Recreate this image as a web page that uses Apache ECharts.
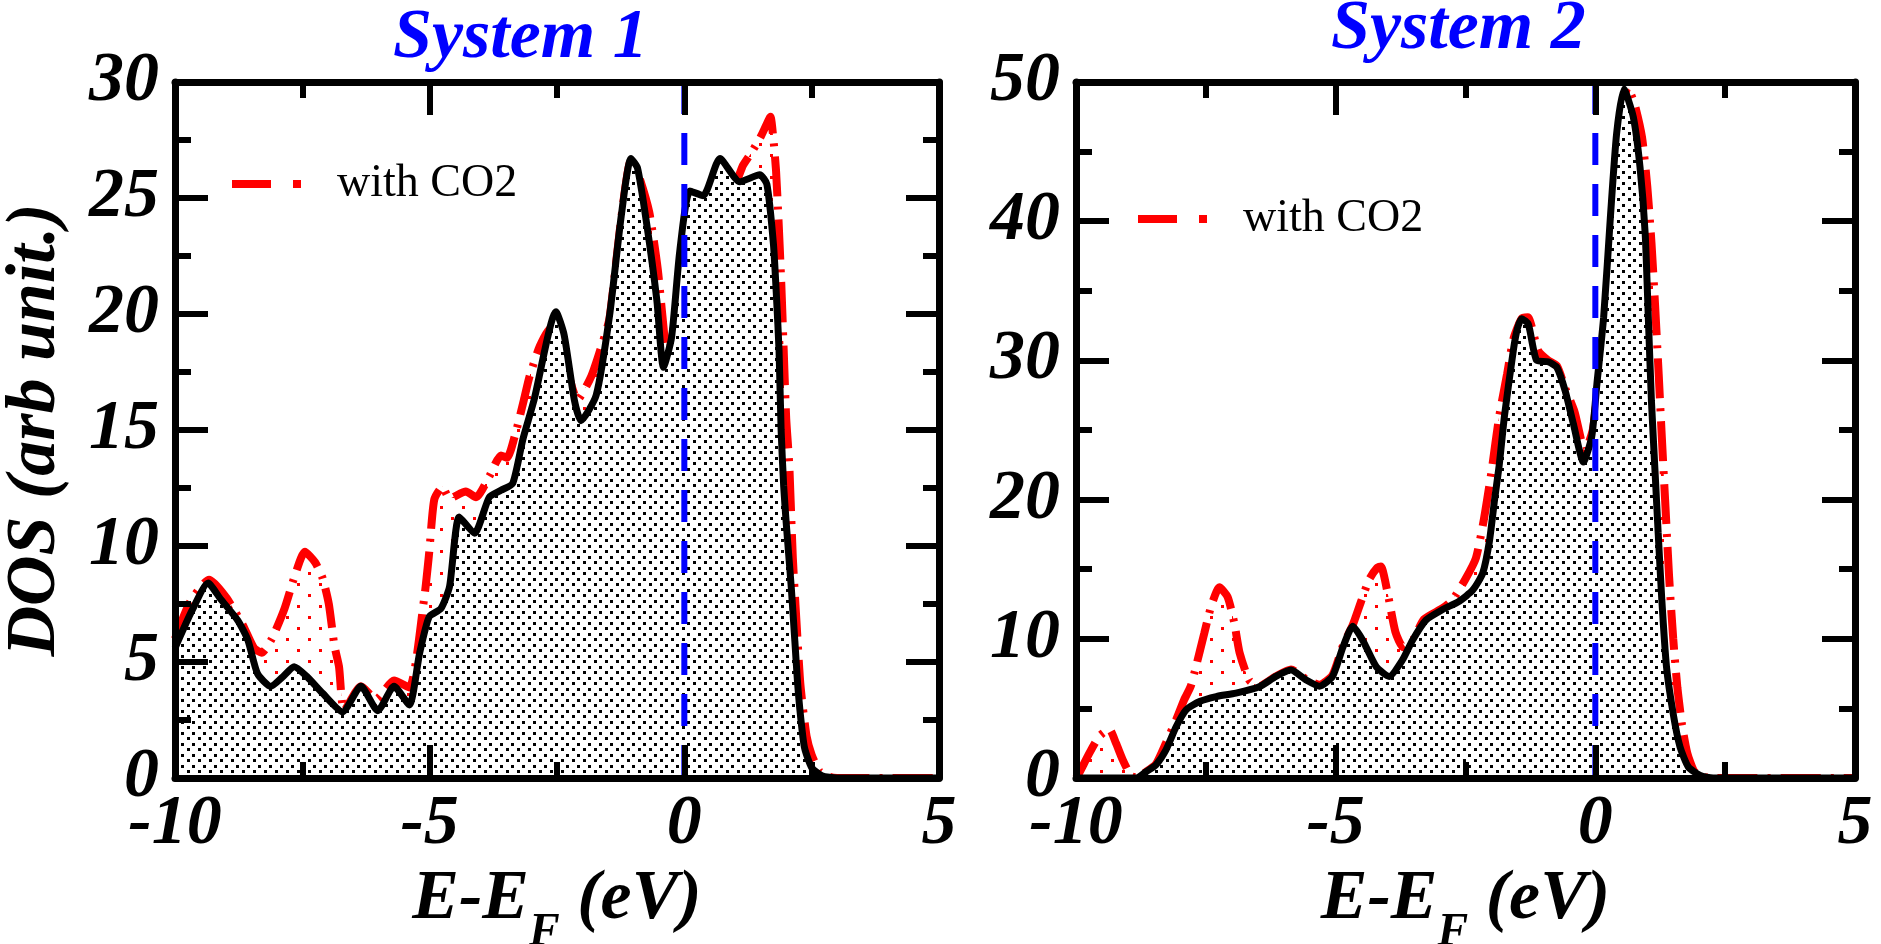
<!DOCTYPE html>
<html><head><meta charset="utf-8">
<script src="https://cdn.jsdelivr.net/npm/echarts@6/dist/echarts.min.js"></script>
<style>html,body{margin:0;padding:0;background:#fff}#c{width:1881px;height:944px}</style>
</head><body><div id="c"></div>
<script>
// ---------------- data ----------------
const titles = ['System 1', 'System 2'];
const legendName = 'with CO2';
const xTitleMain = 'E-E';
const xTitleSub = 'F';
const xTitleUnit = ' (eV)';
const yTitle = 'DOS (arb unit.)';
const xRange = [-10, 5];
const xStep = 5;
const yMax1 = 30, yStep1 = 5;
const yMax2 = 50, yStep2 = 10;
const fermiLevel = 0;

// System 1, without CO2 (black)
const E1 = [-10, -9.67, -9.35, -9.10, -8.77, -8.57, -8.38, -8.12, -7.89, -7.66, -7.40, -7.10, -6.71, -6.35, -6.02, -5.70, -5.40, -5.20, -5.01, -4.78, -4.61, -4.42, -4.12, -3.83, -3.60, -3.37, -3.17, -2.95, -2.52, -2.36, -2.16, -2.03, -1.73, -1.47, -1.24, -1.05, -0.92, -0.74, -0.54, -0.41, -0.25, -0.09, 0.11, 0.37, 0.70, 1.09, 1.48, 1.62, 1.75, 1.81, 1.86, 1.90, 1.95, 2.00, 2.05, 2.10, 2.17, 2.22, 2.28, 2.36, 2.50, 2.70, 3.0, 5.0];
const D1 = [5.6, 7.2, 8.4, 7.7, 6.8, 5.95, 4.5, 3.95, 4.35, 4.8, 4.35, 3.65, 2.85, 3.95, 2.9, 3.95, 3.15, 5.35, 6.95, 7.3, 8.25, 11.25, 10.55, 12.1, 12.4, 12.7, 14.6, 16.3, 20.1, 19.1, 16.3, 15.4, 16.5, 19.9, 24.2, 26.7, 26.3, 23.9, 20.6, 17.7, 19.0, 22.7, 25.3, 25.1, 26.7, 25.7, 26.0, 25.6, 23.0, 20.7, 18.4, 15.0, 12.6, 11.0, 9.6, 8.2, 5.9, 4.2, 2.7, 1.3, 0.45, 0.1, 0, 0];

// System 1, with CO2 (red)
const E1c = [-10, -9.7, -9.33, -9.0, -8.67, -8.45, -8.3, -8.1, -7.85, -7.65, -7.45, -7.25, -7.1, -6.98, -6.87, -6.78, -6.68, -6.35, -6.05, -5.70, -5.40, -5.11, -5.01, -4.91, -4.75, -4.61, -4.29, -4.09, -3.83, -3.60, -3.48, -3.31, -3.15, -3.04, -2.84, -2.62, -2.45, -2.25, -2.10, -1.83, -1.6, -1.47, -1.24, -1.05, -0.9, -0.69, -0.52, -0.39, -0.33, -0.2, -0.05, 0.1, 0.3, 0.6, 0.8, 1.0, 1.15, 1.3, 1.49, 1.6, 1.69, 1.75, 1.80, 1.85, 1.90, 1.95, 2.0, 2.06, 2.13, 2.2, 2.28, 2.4, 2.5, 2.65, 2.85, 3.0, 5.0];
const D1c = [6.0, 7.6, 8.55, 7.8, 6.6, 5.6, 5.4, 6.0, 7.3, 8.7, 9.75, 9.3, 8.6, 7.5, 5.7, 4.8, 2.9, 3.95, 3.4, 4.2, 3.9, 7.7, 9.7, 12.0, 12.55, 12.05, 12.35, 12.1, 13.0, 13.9, 13.8, 14.9, 16.3, 17.3, 18.6, 19.4, 19.2, 17.2, 16.3, 17.3, 18.8, 19.8, 24.1, 26.6, 26.0, 24.4, 21.9, 19.0, 18.2, 19.5, 22.5, 24.8, 24.8, 25.5, 25.8, 25.7, 26.4, 26.9, 27.6, 28.1, 28.5, 27.5, 26.2, 24.0, 21.5, 18.5, 15.5, 13.5, 9.5, 6.8, 4.0, 1.8, 1.0, 0.3, 0.05, 0, 0];

// System 2, without CO2 (black)
const E2 = [-10, -8.84, -8.65, -8.46, -8.27, -8.07, -7.88, -7.62, -7.30, -6.92, -6.47, -6.15, -5.86, -5.57, -5.31, -5.06, -4.86, -4.67, -4.48, -4.22, -3.97, -3.71, -3.52, -3.26, -2.94, -2.62, -2.36, -2.17, -2.04, -1.94, -1.85, -1.75, -1.58, -1.50, -1.42, -1.29, -1.13, -0.91, -0.74, -0.58, -0.42, -0.23, -0.07, 0.03, 0.16, 0.29, 0.41, 0.55, 0.73, 0.86, 0.96, 1.02, 1.08, 1.15, 1.21, 1.28, 1.37, 1.50, 1.63, 1.79, 2.02, 2.27, 5.0];
const D2 = [0, 0, 0.45, 0.95, 2.0, 3.7, 4.9, 5.5, 5.85, 6.1, 6.55, 7.3, 7.75, 7.05, 6.6, 7.3, 9.4, 10.9, 9.9, 8.0, 7.3, 8.5, 9.9, 11.35, 12.1, 12.7, 13.5, 14.7, 17.0, 20.0, 22.5, 26.0, 30.7, 32.3, 33.0, 32.6, 30.0, 29.9, 29.5, 27.8, 25.4, 22.7, 24.5, 28.3, 33.1, 40.3, 46.3, 49.5, 47.5, 43.9, 39.1, 33.1, 27.1, 22.0, 17.6, 12.8, 8.0, 4.6, 2.25, 0.8, 0.18, 0, 0];

// System 2, with CO2 (red)
const E2c = [-10, -9.94, -9.74, -9.55, -9.36, -9.23, -9.10, -8.94, -8.84, -8.65, -8.46, -8.27, -8.07, -7.92, -7.79, -7.69, -7.53, -7.40, -7.24, -7.08, -6.95, -6.85, -6.66, -6.47, -6.15, -5.86, -5.57, -5.31, -5.06, -4.86, -4.67, -4.5, -4.35, -4.2, -4.13, -4.0, -3.85, -3.7, -3.5, -3.3, -2.94, -2.75, -2.5, -2.3, -2.15, -2.0, -1.85, -1.7, -1.58, -1.42, -1.3, -1.1, -0.91, -0.74, -0.58, -0.4, -0.2, -0.05, 0.05, 0.2, 0.33, 0.45, 0.62, 0.75, 0.9, 1.0, 1.08, 1.15, 1.22, 1.28, 1.35, 1.42, 1.5, 1.58, 1.67, 1.77, 1.9, 2.05, 2.3, 5.0];
const D2c = [0, 0.35, 1.8, 3.0, 3.5, 2.5, 1.3, 0.15, 0.05, 0.45, 1.0, 2.5, 4.2, 5.6, 6.6, 8.0, 10.4, 12.3, 13.7, 13.0, 11.1, 9.0, 7.0, 6.6, 7.3, 7.8, 7.1, 6.7, 7.4, 9.5, 11.0, 12.8, 14.3, 15.1, 15.2, 13.3, 10.5, 9.4, 10.0, 11.4, 12.2, 12.8, 14.3, 15.8, 18.5, 22.0, 26.0, 29.0, 31.5, 33.0, 33.1, 30.7, 30.0, 29.6, 28.0, 26.3, 23.5, 25.0, 28.0, 32.5, 39.5, 45.5, 49.6, 48.5, 46.0, 42.5, 38.5, 34.0, 29.0, 24.5, 19.5, 14.5, 10.0, 6.5, 3.8, 1.8, 0.5, 0.1, 0, 0];

// ---------------- styling helpers ----------------
function pairs(xs, ys) { return xs.map((x, i) => [x, ys[i]]); }
function dotPattern(size, color, bg, dots, d) {
  const c = document.createElement('canvas');
  c.width = size; c.height = size;
  const ctx = c.getContext('2d');
  if (bg) { ctx.fillStyle = bg; ctx.fillRect(0, 0, size, size); }
  ctx.fillStyle = color;
  dots.forEach(p => ctx.fillRect(p[0], p[1], d, d));
  return c;
}
const blackPat = dotPattern(11, '#000', '#fff', [[0, 0], [5, 6]], 3);
const redPat = dotPattern(22, '#ff0000', null, [[0, 0], [11, 11]], 3);

const FONT = "'Liberation Serif', 'Times New Roman', Times, serif";
const bi = { fontFamily: FONT, fontWeight: 'bold', fontStyle: 'italic', color: '#000' };

function xAx(grid, pos, labels) {
  const a = {
    type: 'value', gridIndex: grid, position: pos, min: xRange[0], max: xRange[1], interval: xStep, z: 5,
    axisLine: { show: true, onZero: false, lineStyle: { color: '#000', width: 7 } },
    axisTick: { show: true, inside: true, length: 33, lineStyle: { color: '#000', width: 6 } },
    minorTick: { show: true, splitNumber: 2, length: 16, lineStyle: { color: '#000', width: 6 } },
    splitLine: { show: false }, minorSplitLine: { show: false },
    axisLabel: Object.assign({ show: labels, margin: 12, fontSize: 70, showMinLabel: true, showMaxLabel: true, hideOverlap: false }, bi)
  };
  if (labels) {
    a.name = '{m|' + xTitleMain + '}{s|' + xTitleSub + '}{m|' + xTitleUnit + '}';
    a.nameLocation = 'middle';
    a.nameGap = 56;
    a.nameTextStyle = {
      rich: {
        m: Object.assign({ fontSize: 70 }, bi),
        s: Object.assign({ fontSize: 46, padding: [66, 0, 0, 0] }, bi)
      }
    };
  }
  return a;
}
function yAx(grid, pos, labels, max, step, name) {
  const a = {
    type: 'value', gridIndex: grid, position: pos, min: 0, max: max, interval: step, z: 5,
    axisLine: { show: true, onZero: false, lineStyle: { color: '#000', width: 7 } },
    axisTick: { show: true, inside: true, length: 33, lineStyle: { color: '#000', width: 6 } },
    minorTick: { show: true, splitNumber: 2, length: 16, lineStyle: { color: '#000', width: 6 } },
    splitLine: { show: false }, minorSplitLine: { show: false },
    axisLabel: Object.assign({ show: labels, margin: 16, fontSize: 70, showMinLabel: true, showMaxLabel: true, hideOverlap: false }, bi)
  };
  if (name) {
    a.name = name;
    a.nameLocation = 'middle';
    a.nameRotate = 90;
    a.nameGap = 104;
    a.nameTextStyle = Object.assign({ fontSize: 70 }, bi);
  }
  return a;
}
function redSeries(x, y, data) {
  return {
    type: 'line', name: legendName, xAxisIndex: x, yAxisIndex: y, data: data, symbol: 'none', smooth: 0.2, z: 1,
    lineStyle: { color: '#ff0000', width: 8, type: [40, 10, 3, 10] },
    itemStyle: { color: '#ff0000' },
    areaStyle: { color: { image: redPat, repeat: 'repeat' }, opacity: 1 }
  };
}
function blackSeries(x, y, data) {
  return {
    type: 'line', name: 'without CO2', xAxisIndex: x, yAxisIndex: y, data: data, symbol: 'none', smooth: 0.2, z: 2,
    lineStyle: { color: '#000', width: 7 },
    itemStyle: { color: '#000' },
    areaStyle: { color: { image: blackPat, repeat: 'repeat' }, opacity: 1 }
  };
}
function fermiSeries(x, y, ymax) {
  return {
    type: 'line', name: 'EF', xAxisIndex: x, yAxisIndex: y, data: [[fermiLevel, ymax], [fermiLevel, 0]],
    symbol: 'none', z: 3, lineStyle: { color: '#0000ff', width: 6, type: [32, 19] }
  };
}
function legendAt(left, top) {
  return {
    data: [legendName], left: left, top: top, padding: 0, itemWidth: 100, itemHeight: 20,
    selectedMode: false,
    textStyle: { fontFamily: FONT, fontSize: 46, color: '#000' },
    lineStyle: { color: '#ff0000', width: 8, type: [39, 22, 8, 31] },
    itemStyle: { color: '#ff0000', opacity: 0 }
  };
}

const chart = echarts.init(document.getElementById('c'), null, { renderer: 'canvas' });
chart.setOption({
  backgroundColor: '#fff',
  animation: false,
  title: [
    { text: titles[0], left: 393, top: 4, padding: 0, textStyle: Object.assign({}, bi, { color: '#0000ff', fontSize: 70 }) },
    { text: titles[1], left: 1331, top: -5, padding: 0, textStyle: Object.assign({}, bi, { color: '#0000ff', fontSize: 70 }) }
  ],
  legend: [legendAt(228, 161), legendAt(1134, 196)],
  grid: [
    { left: 175, top: 82, width: 764, height: 696, show: false, outerBoundsMode: 'none' },
    { left: 1076, top: 82, width: 779, height: 696, show: false, outerBoundsMode: 'none' }
  ],
  xAxis: [xAx(0, 'bottom', true), xAx(0, 'top', false), xAx(1, 'bottom', true), xAx(1, 'top', false)],
  yAxis: [yAx(0, 'left', true, yMax1, yStep1, yTitle), yAx(0, 'right', false, yMax1, yStep1),
          yAx(1, 'left', true, yMax2, yStep2), yAx(1, 'right', false, yMax2, yStep2)],
  series: [
    redSeries(0, 0, pairs(E1c, D1c)), blackSeries(0, 0, pairs(E1, D1)), fermiSeries(0, 0, yMax1),
    redSeries(2, 2, pairs(E2c, D2c)), blackSeries(2, 2, pairs(E2, D2)), fermiSeries(2, 2, yMax2)
  ]
});
</script>
</body></html>
